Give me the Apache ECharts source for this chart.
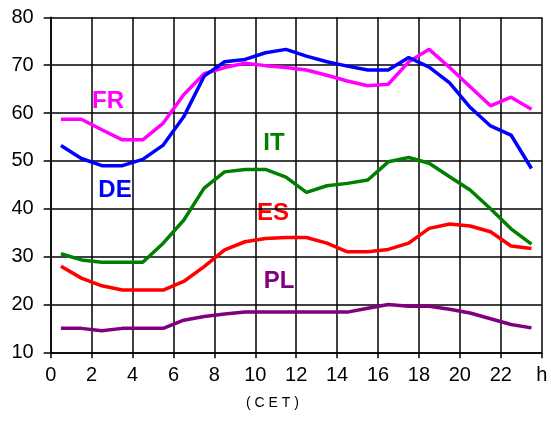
<!DOCTYPE html>
<html>
<head>
<meta charset="utf-8">
<script src="https://cdn.jsdelivr.net/npm/echarts@6/dist/echarts.min.js"></script>
<style>html,body{margin:0;padding:0;background:#fff;}#c{width:551px;height:423px;}</style>
</head>
<body>
<div id="c"></div>
<script>
var hours = [0.5,1.5,2.5,3.5,4.5,5.5,6.5,7.5,8.5,9.5,10.5,11.5,12.5,13.5,14.5,15.5,16.5,17.5,18.5,19.5,20.5,21.5,22.5,23.5];
var FR = [58.7,58.7,56.5,54.4,54.4,57.9,63.8,68.2,69.5,70.4,69.9,69.5,69.0,67.9,66.7,65.7,66.0,70.7,73.3,69.5,65.5,61.5,63.3,60.8];
var DE = [53.2,50.5,49.0,49.0,50.3,53.3,59.2,67.7,70.7,71.2,72.6,73.3,71.9,70.7,69.8,69.0,69.0,71.6,69.6,66.3,61.2,57.3,55.4,48.4];
var IT = [30.6,29.3,28.8,28.8,28.8,32.8,37.6,44.3,47.7,48.2,48.2,46.6,43.4,44.8,45.3,46.0,49.8,50.7,49.5,46.7,43.9,40.0,35.8,32.6];
var ES = [28.0,25.5,23.9,23.0,23.0,23.0,24.8,27.9,31.4,33.1,33.8,34.0,34.0,32.8,31.0,31.0,31.5,32.8,35.9,36.8,36.4,35.2,32.2,31.7];
var PL = [15.0,15.0,14.5,15.0,15.0,15.0,16.7,17.5,18.0,18.4,18.4,18.4,18.4,18.4,18.4,19.2,20.0,19.6,19.6,19.0,18.2,17.0,15.8,15.1];
var xTickLabels = ['0','2','4','6','8','10','12','14','16','18','20','22','h'];
var seriesNames = ['FR','DE','IT','ES','PL'];
var xTitle = '( C E T )';

var colors = {FR:'#ff00ff', DE:'#0000ff', IT:'#008000', ES:'#ff0000', PL:'#800080'};
var dataMap = {FR:FR, DE:DE, IT:IT, ES:ES, PL:PL};
var font = "'Liberation Sans', Arial, sans-serif";

function pairs(vals){ return hours.map(function(h,i){ return [h, vals[i]]; }); }

var chart = echarts.init(document.getElementById('c'), null, {renderer:'canvas'});
var labelPos = {FR:[108,101], DE:[115,190], IT:[274,143], ES:[273,213], PL:[279,281]};

chart.setOption({
  animation:false,
  backgroundColor:'#fff',
  grid:{left:50.7, right:9.3, top:17.3, bottom:70.7},
  xAxis:{
    type:'value', min:0, max:24, interval:2,
    axisLine:{show:true, lineStyle:{color:'#000', width:1.5}},
    axisTick:{show:true, length:6, inside:false, lineStyle:{color:'#000', width:1.5}},
    splitLine:{show:true, lineStyle:{color:'#000', width:1.5}},
    axisLabel:{color:'#000', fontSize:20, fontFamily:font, margin:13, showMinLabel:true, showMaxLabel:true,
      formatter:function(v){ return xTickLabels[Math.round(v/2)]; }}
  },
  yAxis:{
    type:'value', min:10, max:80, interval:10,
    axisLine:{show:true, lineStyle:{color:'#000', width:1.5}},
    axisTick:{show:true, length:7, lineStyle:{color:'#000', width:1.5}},
    splitLine:{show:true, lineStyle:{color:'#000', width:1.5}},
    axisLabel:{color:'#000', fontSize:20, fontFamily:font, margin:17}
  },
  graphic: [{
    type:'text', x:272.5, y:403, style:{text:xTitle, font:'14px '+font, fill:'#000', align:'center', verticalAlign:'middle'}
  }].concat(seriesNames.map(function(n){
    return {type:'text', x:labelPos[n][0], y:labelPos[n][1],
      style:{text:n, fill:colors[n], font:'bold 24px '+font, align:'center', verticalAlign:'middle'}};
  })),
  series: seriesNames.map(function(n){
    return {name:n, type:'line', data:pairs(dataMap[n]), symbol:'none',
      lineStyle:{color:colors[n], width:3.5}, z:3};
  })
});
</script>
</body>
</html>
